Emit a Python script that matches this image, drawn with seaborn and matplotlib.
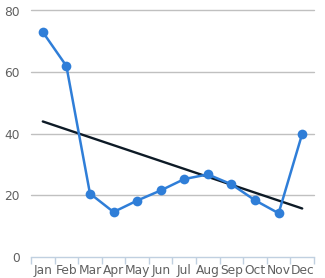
import numpy as np
import pandas as pd
import matplotlib
matplotlib.use("Agg")
import matplotlib.pyplot as plt
import seaborn as sns

months = ["Jan", "Feb", "Mar", "Apr", "May", "Jun", "Jul", "Aug", "Sep", "Oct", "Nov", "Dec"]
values = [73.0, 62.0, 20.6, 14.6, 18.3, 21.6, 25.3, 26.8, 23.6, 18.4, 14.2, 40.0]
yticks = [0, 20, 40, 60, 80]

df = pd.DataFrame({"month": months, "idx": np.arange(len(months)), "value": values})

sns.set_style("white")
plt.rcParams["font.family"] = ["DejaVu Sans"]

fig = plt.figure(figsize=(3.25, 2.78), dpi=100)
ax = fig.add_axes([31/325, 1-257/278, (314-31)/325, (257-10.5)/278])

for y in yticks[1:]:
    ax.axhline(y, color="#c0c0c0", lw=1, zorder=0, clip_on=False)

sns.regplot(data=df, x="idx", y="value", ci=None, scatter=False, truncate=True,
            line_kws={"color": "#0d1a26", "lw": 1.7, "zorder": 2}, ax=ax)
sns.lineplot(data=df, x="idx", y="value", color="#2f7ed8", lw=1.8, marker="o",
             markersize=7, markeredgewidth=0, ax=ax, zorder=3)

ax.set_xlim(-0.5, 11.5)
ax.set_ylim(0, 80)
ax.set_xticks(np.arange(len(months)))
ax.set_xticklabels(months)
ax.set_xticks(np.arange(-0.5, 12, 1), minor=True)
ax.tick_params(axis="x", which="both", bottom=True)
ax.tick_params(axis="x", which="major", length=0, pad=5, labelsize=8.8, colors="#606060")
ax.tick_params(axis="x", which="minor", length=5, color="#c0d0e0", width=1, direction="out")
ax.set_yticks(yticks)
ax.tick_params(axis="y", length=0, pad=8, labelsize=8.8, colors="#606060")
ax.set_xlabel("")
ax.set_ylabel("")
for s in ["top", "right", "left"]:
    ax.spines[s].set_visible(False)
ax.spines["bottom"].set_color("#c0d0e0")
ax.spines["bottom"].set_linewidth(1)

fig.savefig("out.png", dpi=100)
